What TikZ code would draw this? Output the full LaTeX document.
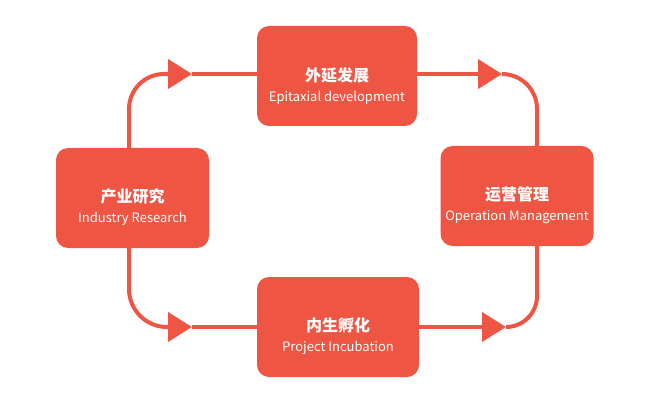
\documentclass[tikz,border=0pt]{standalone}
\usepackage{fontspec}
\setmainfont{Noto Sans CJK SC}
\usepackage{xcolor}
\usetikzlibrary{arrows.meta}
\definecolor{boxred}{RGB}{238,85,67}
\newcommand{\twoline}[2]{\rule{0pt}{33pt}{\fontsize{16}{20}\bfseries #1}\\#2}

\begin{document}
\begin{tikzpicture}[x=1pt,y=-1pt,
    box/.style={fill=boxred, text=white, rounded corners=12pt, minimum width=153pt,
        minimum height=100pt, align=center, font={\fontsize{13}{20}\selectfont}},
    link/.style={draw=boxred, line width=4pt},
    tip/.style={-{Triangle[length=24pt,width=29pt]}}]
    \useasboundingbox (0,0) rectangle (652,406);

    \node[box] (ir) at (132.5,198) {\twoline{产业研究}{Industry Research}};
    \node[box, minimum width=160pt] (ep) at (337,76) {\twoline{外延发展}{Epitaxial development}};
    \node[box] (om) at (517,196) {\twoline{运营管理}{Operation Management}};
    \node[box, minimum width=162pt] (pi) at (338,327) {\twoline{内生孵化}{Project Incubation}};

    \coordinate (lx) at (129,0);
    \coordinate (rx) at (537,0);
    \coordinate (a1) at (192,74);
    \coordinate (a2) at (502,74);
    \coordinate (a3) at (192,327);
    \coordinate (a4) at (506,327);

    % upper way
    \draw[link, tip, rounded corners=35pt] (ir.north -| lx) |- (a1);
    \draw[link] (a1) -- (a1 -| ep.west);
    \draw[link, tip] (a2 -| ep.east) -- (a2);
    \draw[link, rounded corners=35pt] (a2) -| (om.north -| rx);

    % lower way
    \draw[link, tip, rounded corners=38pt] (ir.south -| lx) |- (a3);
    \draw[link] (a3) -- (pi.west);
    \draw[link, tip] (pi.east) -- (a4);
    \draw[link, rounded corners=31pt] (a4) -| (om.south -| rx);
\end{tikzpicture}
\end{document}
